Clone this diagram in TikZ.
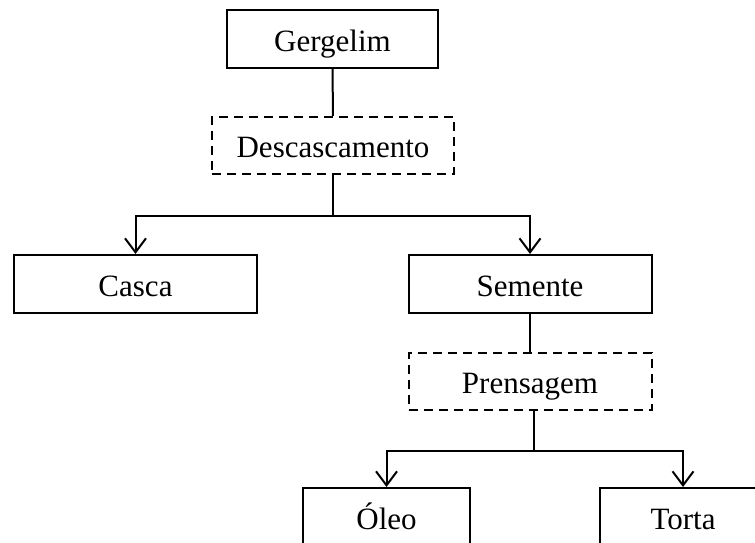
\documentclass[tikz,border=0pt]{standalone}
\usepackage{fontspec}
\setmainfont{Liberation Serif}
\usetikzlibrary{arrows.meta}
\begin{document}
\begin{tikzpicture}[x=1pt,y=1pt,
  box/.style={draw, line width=2pt, minimum height=58pt, inner sep=0pt, text height=25pt, text depth=0pt, font=\fontsize{31}{36}\selectfont},
  dbox/.style={box, dash pattern=on 9pt off 6pt},
  conn/.style={line width=2pt},
  arr/.style={conn, -{Straight Barb[length=14pt,width=21pt,line width=2pt]}}]
\useasboundingbox (0,0) rectangle (755,543);
\clip (0,0) rectangle (755,543);
\node[box, minimum width=211pt] (g) at (332.5,504) {Gergelim};
\node[dbox, minimum width=242pt, minimum height=57pt] (d) at (333,397.5) {Descascamento};
\node[box, minimum width=243pt] (c) at (135.5,259) {Casca};
\node[box, minimum width=243pt] (s) at (530,259) {Semente};
\node[dbox, minimum width=243pt, minimum height=57pt] (p) at (530,161.5) {Prensagem};
\node[box, minimum width=167pt] (o) at (386.5,26) {Óleo};
\node[box, minimum width=167pt] (t) at (683,26) {Torta};
\draw[conn] (g.south) -- (d.north);
\draw[conn] (d.south) -- ++(0,-41) coordinate (j1);
\draw[arr] (j1) -| (c.north);
\draw[arr] (j1) -| (s.north);
\draw[conn] (s.south) -- (p.north);
\draw[conn] ([xshift=4pt]p.south) -- ++(0,-40) coordinate (j2);
\draw[arr] (j2) -| (o.north);
\draw[arr] (j2) -| (t.north);
\end{tikzpicture}
\end{document}
